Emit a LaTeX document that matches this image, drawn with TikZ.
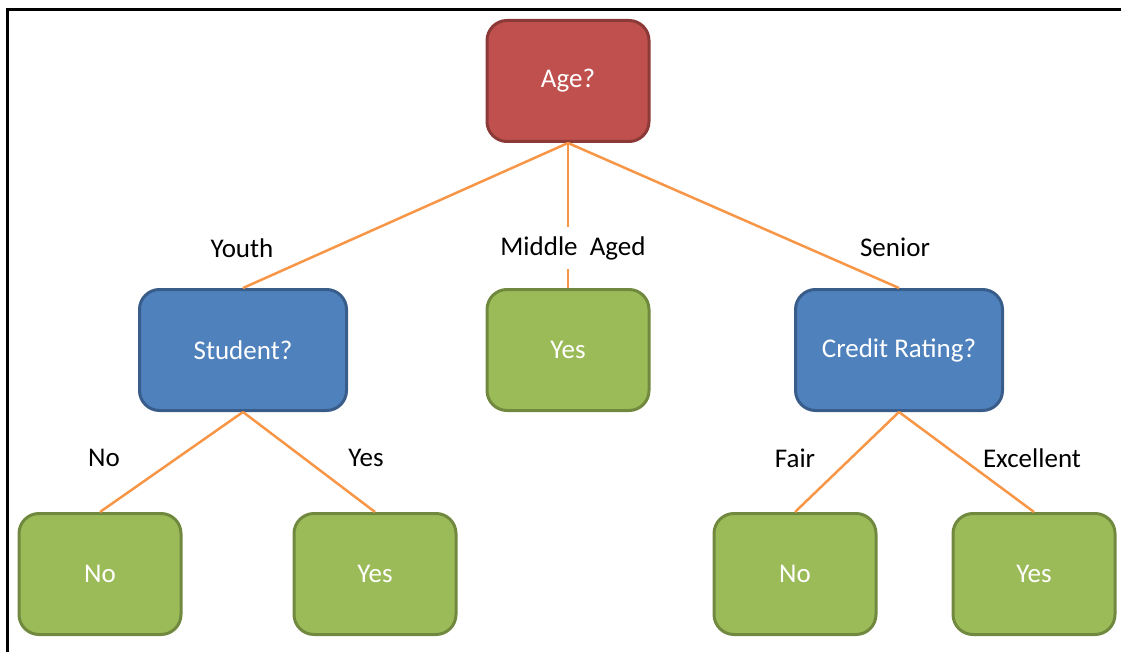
\documentclass[tikz,border=0pt]{standalone}
\usepackage{fontspec}
\setmainfont{Carlito}
\begin{document}
\begin{tikzpicture}[x=1pt,y=-1pt,
  box/.style={rectangle,rounded corners=20pt,line width=3pt,minimum width=162pt,minimum height=121pt,text=white,font=\fontsize{27}{31}\selectfont},
  wide/.style={box,minimum width=207pt},
  redbox/.style={box,fill=agefill,draw=ageline},
  bluebox/.style={wide,fill=qfill,draw=qline},
  greenbox/.style={box,fill=leaffill,draw=leafline},
  conn/.style={draw=connorange,line width=2.5pt},
  lab/.style={font=\fontsize{27}{31}\selectfont,text=black,inner sep=2pt}]
\definecolor{agefill}{HTML}{C0504D}
\definecolor{ageline}{HTML}{8C3A38}
\definecolor{qfill}{HTML}{4F81BD}
\definecolor{qline}{HTML}{385D8A}
\definecolor{leaffill}{HTML}{9BBB59}
\definecolor{leafline}{HTML}{71893F}
\definecolor{connorange}{HTML}{F79646}
\useasboundingbox (0,0) rectangle (1121,652);
\clip (0,0) rectangle (1121,652);
\draw[line width=3pt] (1125,10) -- (7,10) -- (7,656);

\node[redbox] (age) at (568,81) {Age?};
\node[bluebox] (student) at (243,350) {Student?};
\node[greenbox] (mid) at (568,350) {Yes};
\node[bluebox] (credit) at (899,350) {Credit Rating?};
\node[greenbox] (sno) at (100,574) {No};
\node[greenbox] (syes) at (375,574) {Yes};
\node[greenbox] (cno) at (795,574) {No};
\node[greenbox] (cyes) at (1034,574) {Yes};

\draw[conn] (age.south) -- (student.north);
\draw[conn] (age.south) -- (mid.north);
\draw[conn] (age.south) -- (credit.north);
\draw[conn] (student.south) -- (sno.north);
\draw[conn] (student.south) -- (syes.north);
\draw[conn] (credit.south) -- (cno.north);
\draw[conn] (credit.south) -- (cyes.north);

\node[lab] (lyouth) at (242,248) {Youth};
\node[lab,fill=white,inner ysep=9pt] (lmid) at (573,248) {Middle\ \ Aged};
\node[lab] (lsenior) at (895,247) {Senior};
\node[lab] (lsno) at (104,458) {No};
\node[lab] (lsyes) at (366,458) {Yes};
\node[lab] (lfair) at (795,458) {Fair};
\node[lab] (lexc) at (1032,458) {Excellent};
\end{tikzpicture}
\end{document}
